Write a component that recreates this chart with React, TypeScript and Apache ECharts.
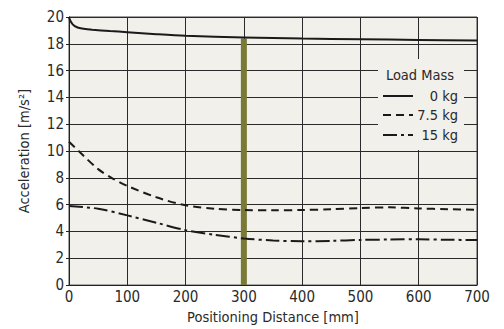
import React, { useEffect, useRef } from "react";
import * as echarts from "echarts";

const seriesNames = ["0 kg", "7.5 kg", "15 kg"];
const load0: [number, number][] = [
  [0, 20], [1, 19.86], [3, 19.66], [6, 19.47], [10, 19.32], [16, 19.2], [25, 19.12], [40, 19.05],
  [70, 18.95], [100, 18.87], [150, 18.72], [200, 18.6], [300, 18.48], [400, 18.39], [500, 18.34],
  [600, 18.29], [700, 18.24],
];
const load75: [number, number][] = [
  [0, 10.7], [25, 9.65], [50, 8.65], [75, 7.95], [100, 7.4], [150, 6.55], [200, 5.95],
  [250, 5.7], [300, 5.6], [350, 5.58], [400, 5.6], [450, 5.66], [500, 5.75], [550, 5.8],
  [600, 5.72], [650, 5.66], [700, 5.62],
];
const load15: [number, number][] = [
  [0, 5.9], [50, 5.7], [100, 5.2], [150, 4.65], [200, 4.1], [250, 3.75], [300, 3.48],
  [350, 3.33], [400, 3.27], [450, 3.3], [500, 3.37], [550, 3.4], [600, 3.42], [650, 3.38], [700, 3.37],
];
const markerBar: [number, number][] = [[300, 18.4]];
const legendTitle = "Load Mass";
const xName = "Positioning Distance [mm]";
const yName = "Acceleration [m/s²]";

const FONT = "'DejaVu Sans Condensed', 'Roboto', sans-serif";
const TXT = "#2a2a2a";
const BG = "#f1f0ea";
const dashes: (number[] | "solid")[] = ["solid", [8, 5], [14, 4, 3, 4]];

export default function App() {
  const ref = useRef<HTMLDivElement>(null);
  useEffect(() => {
    if (!ref.current) return;
    const chart = echarts.init(ref.current, null, { renderer: "svg" });
    const datas = [load0, load75, load15];
    const legendRows = [96, 115, 135];
    const graphics: any[] = [
      { type: "rect", shape: { x: 378, y: 59, width: 86, height: 91 }, style: { fill: BG }, z: 10 },
      {
        type: "text", x: 420, y: 75, z: 11,
        style: { text: legendTitle, font: `14.5px ${FONT}`, fill: TXT, align: "center", verticalAlign: "middle" },
      },
    ];
    seriesNames.forEach((n, i) => {
      graphics.push({
        type: "line", z: 11,
        shape: { x1: 383, y1: legendRows[i], x2: 413, y2: legendRows[i] },
        style: { stroke: "#1a1a1a", lineWidth: 2, lineDash: dashes[i] === "solid" ? null : dashes[i] },
      });
      graphics.push({
        type: "text", x: 458, y: legendRows[i], z: 11,
        style: { text: n, font: `14.5px ${FONT}`, fill: TXT, align: "right", verticalAlign: "middle" },
      });
    });
    chart.setOption({
      animation: false,
      grid: {
        left: 69, right: 27, top: 17, bottom: 39, show: true,
        backgroundColor: BG, borderColor: "#444", borderWidth: 1,
      },
      xAxis: {
        type: "value", min: 0, max: 700, interval: 100,
        name: xName, nameLocation: "middle", nameGap: 22,
        nameTextStyle: { fontFamily: FONT, fontSize: 14.5, color: TXT },
        axisLine: { lineStyle: { color: "#222", width: 1 } },
        axisTick: { show: false },
        axisLabel: { fontFamily: FONT, fontSize: 15, color: TXT, margin: 4 },
        splitLine: { show: true, lineStyle: { color: "#2a2a2a", width: 1 } },
      },
      yAxis: {
        type: "value", min: 0, max: 20, interval: 2,
        name: yName, nameLocation: "middle", nameGap: 38,
        nameTextStyle: { fontFamily: FONT, fontSize: 14.5, color: TXT },
        axisLine: { show: true, lineStyle: { color: "#222", width: 1 } },
        axisTick: { show: true, length: 3, lineStyle: { color: "#222" } },
        axisLabel: { fontFamily: FONT, fontSize: 15, color: TXT, margin: 5 },
        splitLine: { show: true, lineStyle: { color: "#2a2a2a", width: 1 } },
      },
      series: [
        {
          type: "bar", name: "marker", data: markerBar, barWidth: 6,
          itemStyle: { color: "#7a7a37" }, z: 2, silent: true,
        },
        ...seriesNames.map((n, i) => ({
          type: "line", name: n, data: datas[i], smooth: 0.3, showSymbol: false, z: 3,
          lineStyle: { color: "#1a1a1a", width: 2, type: dashes[i] },
        })),
      ],
      graphic: graphics,
    });
    return () => chart.dispose();
  }, []);
  return <div ref={ref} style={{ width: 504, height: 329, position: "absolute", left: 0, top: 0 }} />;
}
